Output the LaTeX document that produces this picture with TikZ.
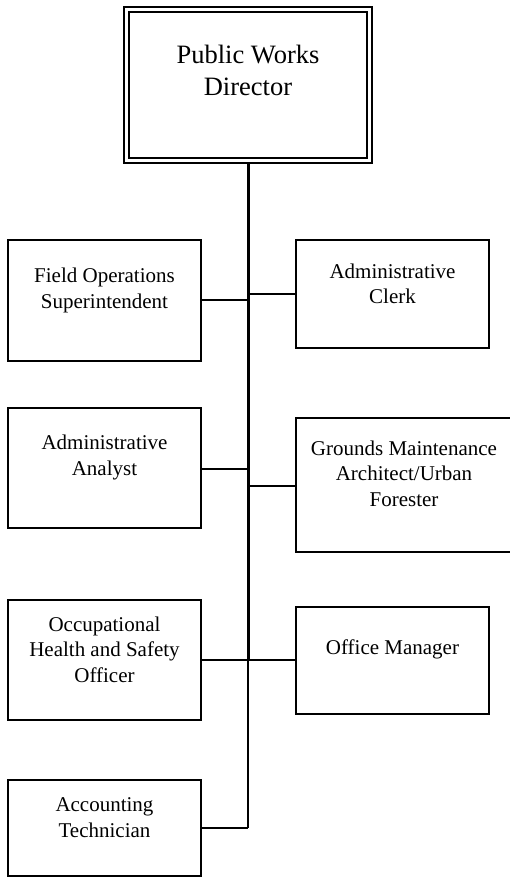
\documentclass[tikz,border=0pt]{standalone}
\usepackage{fontspec}
\setmainfont{Liberation Serif}
\begin{document}
\begin{tikzpicture}[x=1pt,y=-1pt,
  box/.style={draw=black, line width=1.4pt, inner sep=0pt},
  lbl/.style={align=center, inner sep=0pt, font=\fontsize{21}{25.5}\selectfont},
  toplbl/.style={align=center, inner sep=0pt, font=\fontsize{26.5}{32}\selectfont},
  branch/.style={line width=1.8pt},
  trunk/.style={line width=3pt},
  thin/.style={line width=1.2pt}]
\useasboundingbox (0,0) rectangle (510,878);
\clip (0,0) rectangle (510,878);
% top box with double border
\draw[line width=2pt] (124,7) rectangle (372,163);
\draw[line width=1.3pt] (129,12) rectangle (367,158);
\node[toplbl] (dir) at (248,70) {Public Works\\Director};
\coordinate (dirb) at (248,163);
% boxes
\node[box, minimum width=193, minimum height=121] (fo) at (104.5,300.5) {};
\node[box, minimum width=193, minimum height=108] (ac) at (392.5,294) {};
\node[box, minimum width=193, minimum height=120] (aa) at (104.5,468) {};
\node[box, minimum width=216, minimum height=134] (gm) at (404,485) {};
\node[box, minimum width=193, minimum height=120] (oh) at (104.5,660) {};
\node[box, minimum width=193, minimum height=107] (om) at (392.5,660.5) {};
\node[box, minimum width=193, minimum height=96] (at) at (104.5,828) {};
% labels
\node[lbl] (fo-t) at (104.5,290.5) {Field Operations\\Superintendent};
\node[lbl] (ac-t) at (392.5,284) {Administrative\\Clerk};
\node[lbl] (aa-t) at (104.5,457.5) {Administrative\\Analyst};
\node[lbl] (gm-t) at (404,473.5) {Grounds Maintenance\\Architect/Urban\\Forester};
\node[lbl] (oh-t) at (104.5,649.5) {Occupational\\Health and Safety\\Officer};
\node[lbl] (om-t) at (392.5,649.5) {Office Manager};
\node[lbl] (at-t) at (104.5,817.5) {Accounting\\Technician};
% trunk
\coordinate (j1) at (248,300);
\coordinate (j2) at (248,294);
\coordinate (j3) at (248,469);
\coordinate (j4) at (248,486);
\coordinate (j5) at (248,660);
\coordinate (j6) at (248,828);
\draw[trunk] (dirb) -- (j5);
\draw[thin] (j5) -- (j6);
% branches
\draw[branch] (fo.east |- j1) -- (j1);
\draw[branch] (j2) -- (ac.west |- j2);
\draw[branch] (aa.east |- j3) -- (j3);
\draw[branch] (j4) -- (gm.west |- j4);
\draw[branch] (oh.east |- j5) -- (om.west |- j5);
\draw[thin] (at.east |- j6) -- (j6);
\end{tikzpicture}
\end{document}
